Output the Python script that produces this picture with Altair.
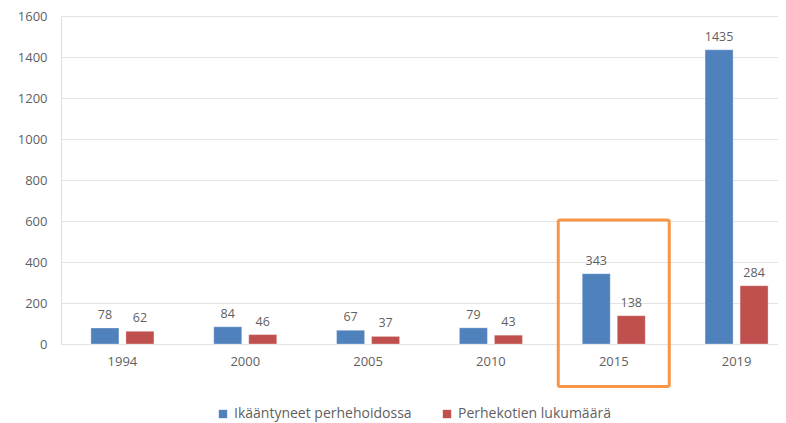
import altair as alt
import pandas as pd

years = ["1994", "2000", "2005", "2010", "2015", "2019"]
elderly = [78, 84, 67, 79, 343, 1435]
homes = [62, 46, 37, 43, 138, 284]
series_names = ["Ikääntyneet perhehoidossa", "Perhekotien lukumäärä"]
colors = ["#4f81bd", "#c0504d"]

highlight_year = ["2015"]
highlight_top = [605]
highlight_bottom = [-207]

rows = []
for y, a, b in zip(years, elderly, homes):
    rows.append({"year": y, "series": series_names[0], "value": a})
    rows.append({"year": y, "series": series_names[1], "value": b})
df = pd.DataFrame(rows)

box_df = pd.DataFrame({"year": highlight_year, "top": highlight_top, "bottom": highlight_bottom})

FONT = "Open Sans"
GRAY = "#5f5f5f"

x_scale = alt.Scale(paddingInner=0.43, paddingOuter=0.215)
x_enc = alt.X("year:N", sort=years, title=None, scale=x_scale,
              axis=alt.Axis(labelAngle=0, ticks=False, domain=False, labelPadding=11,
                            labelFont=FONT, labelFontSize=13, labelColor=GRAY))
xoff = alt.XOffset("series:N", sort=series_names,
                   scale=alt.Scale(paddingInner=0.2, paddingOuter=0.1))
y_enc = alt.Y("value:Q", title=None,
              scale=alt.Scale(domain=[0, 1600]),
              axis=alt.Axis(values=list(range(0, 1601, 200)), format="d", ticks=False,
                            domain=False, labelPadding=14, labelFont=FONT, labelFontSize=13,
                            labelColor=GRAY, gridColor="#e3e3e3", gridWidth=1))

base = alt.Chart(df)

bars = base.mark_bar(stroke="#ffffff", strokeWidth=0.6, strokeOpacity=0.5).encode(
    x=x_enc,
    xOffset=xoff,
    y=y_enc,
    color=alt.Color("series:N", sort=series_names,
                    scale=alt.Scale(domain=series_names, range=colors),
                    legend=alt.Legend(title=None, orient="none", direction="horizontal",
                                      legendX=155, legendY=391, symbolType="square",
                                      symbolSize=70, symbolStrokeWidth=0,
                                      labelFont=FONT, labelFontSize=14, labelLimit=0,
                                      labelColor=GRAY, columnPadding=28,
                                      labelOffset=4)),
)

labels = base.mark_text(dy=-9, font=FONT, fontSize=12.5, color=GRAY,
                        baseline="alphabetic").encode(
    x=alt.X("year:N", sort=years, scale=x_scale),
    xOffset=alt.XOffset("series:N", sort=series_names),
    y="value:Q",
    text="value:Q",
)

box = alt.Chart(box_df).mark_bar(width=111, fill=None, fillOpacity=0, stroke="#f79646",
                                 strokeWidth=3, cornerRadius=2, clip=False).encode(
    x=alt.X("year:N", sort=years, scale=x_scale),
    y=alt.Y("top:Q"),
    y2="bottom:Q",
)

chart = alt.layer(bars, labels, box).properties(
    width=737, height=328,
    autosize=alt.AutoSizeParams(type="none"),
    padding={"left": 53, "top": 8, "right": -20, "bottom": 79},
).configure_view(stroke=None).configure(background="#ffffff")

chart.save("out.html", embed_options={"renderer": "svg", "actions": False})
